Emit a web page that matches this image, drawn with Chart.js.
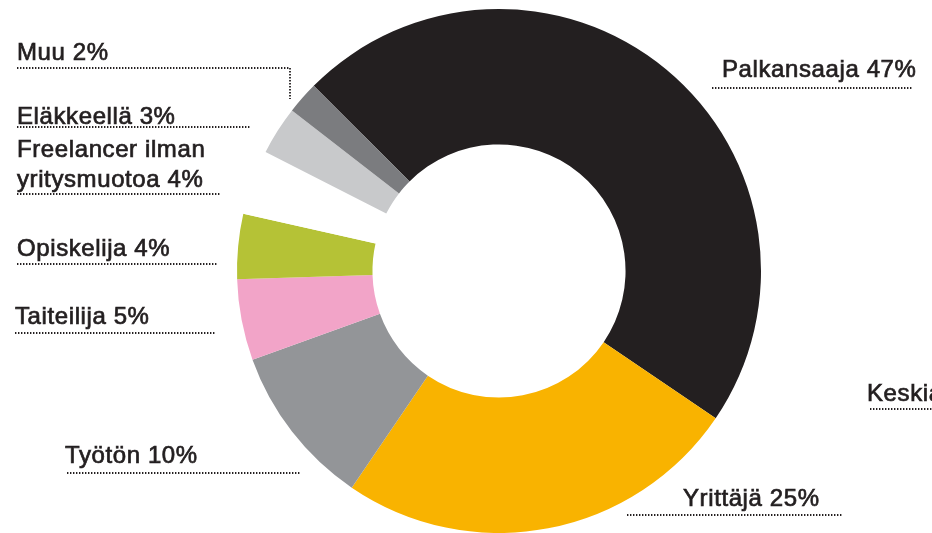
<!DOCTYPE html>
<html>
<head>
<meta charset="utf-8">
<script src="https://cdn.jsdelivr.net/npm/chart.js@4.4.0/dist/chart.umd.min.js"></script>
<style>
  html, body { margin: 0; padding: 0; background: #fff; }
  #wrap { width: 932px; height: 533px; }
</style>
</head>
<body>
<div id="wrap"><canvas id="donut" width="932" height="533"></canvas></div>
<script>
// data
const groups = ['Palkansaaja', 'Yrittäjä', 'Työtön', 'Taiteilija', 'Opiskelija', 'Freelancer ilman yritysmuotoa', 'Eläkkeellä', 'Muu'];
const shares = [47, 25, 10, 5, 4, 4, 3, 2];
const sliceColors = ['#231f20', '#f9b300', '#939598', '#f2a4c8', '#b5c236', '#ffffff', '#c8c9cb', '#7b7c7f'];

// where each label goes (x, baseline y, underline from..to, optional extra leader)
const labelSpots = [
    { x: 722, y: 77, lx1: 712, lx2: 912, ly: 88 },
    { x: 683, y: 506, lx1: 627, lx2: 843, ly: 515 },
    { x: 65, y: 463, lx1: 67, lx2: 300, ly: 473 },
    { x: 15, y: 324, lx1: 15, lx2: 216, ly: 333 },
    { x: 17, y: 256, lx1: 17, lx2: 218, ly: 264 },
    { x: 17, y: 157, lx1: 17, lx2: 220, ly: 194, lines: ['Freelancer ilman', 'yritysmuotoa'] },
    { x: 17, y: 124, lx1: 17, lx2: 250, ly: 127 },
    { x: 17, y: 60, lx1: 17, lx2: 290, ly: 68, down: 99 }
];

function dotted(ctx, x1, y1, x2, y2) {
    ctx.save();
    ctx.strokeStyle = '#231f20';
    ctx.lineWidth = 1.8;
    ctx.setLineDash([1.4, 1.6]);
    ctx.beginPath();
    ctx.moveTo(x1, y1);
    ctx.lineTo(x2, y2);
    ctx.stroke();
    ctx.restore();
}

function heavyText(ctx, text, x, y) {
    ctx.fillText(text, x, y);
    ctx.strokeText(text, x, y);
}

const labelPlugin = {
    id: 'sideLabels',
    afterDraw(chart) {
        let ctx = chart.ctx;
        ctx.save();
        ctx.fillStyle = '#231f20';
        ctx.strokeStyle = '#231f20';
        ctx.lineWidth = 0.7;
        ctx.font = '24px "Liberation Sans", Arial, sans-serif';
        ctx.letterSpacing = '0.6px';
        ctx.textBaseline = 'alphabetic';
        groups.forEach(function (name, i) {
            let s = labelSpots[i];
            if (s.lines) {
                heavyText(ctx, s.lines[0], s.x, s.y);
                heavyText(ctx, s.lines[1] + ' ' + shares[i] + '%', s.x, s.y + 30);
            } else {
                heavyText(ctx, name + ' ' + shares[i] + '%', s.x, s.y);
            }
            dotted(ctx, s.lx1, s.ly, s.lx2, s.ly);
            if (s.down) dotted(ctx, s.lx2, s.ly, s.lx2, s.down);
        });
        // cut-off label at the right edge
        heavyText(ctx, 'Keskiarvo', 867, 401);
        dotted(ctx, 870, 409, 932, 409);
        ctx.restore();
    }
};

new Chart(document.getElementById('donut').getContext('2d'), {
    type: 'doughnut',
    data: {
        labels: groups,
        datasets: [{
            data: shares,
            backgroundColor: sliceColors,
            borderWidth: 0
        }]
    },
    options: {
        responsive: false,
        animation: false,
        rotation: -45,
        cutout: '48.3%',
        layout: { padding: { left: 237, right: 171, top: 9, bottom: 0 } },
        plugins: {
            legend: { display: false },
            tooltip: { enabled: false }
        },
        events: []
    },
    plugins: [labelPlugin]
});
</script>
</body>
</html>
